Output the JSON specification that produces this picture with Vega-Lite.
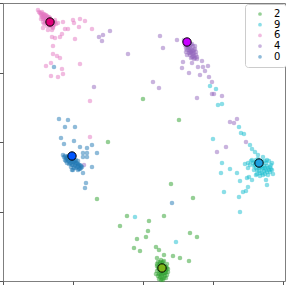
{
  "$schema": "https://vega.github.io/schema/vega-lite/v6.json",
  "width": 282,
  "height": 278,
  "autosize": "none",
  "padding": {"left": 3, "top": 3, "right": 1, "bottom": 4},
  "background": "white",
  "config": {
    "view": {"stroke": "#7f7f7f", "strokeWidth": 1},
    "font": "DejaVu Sans"
  },
  "datasets": {
    "pts": [
      {"x":38,"y":271,"c":"6"},{"x":39,"y":269,"c":"6"},{"x":42,"y":266,"c":"6"},{"x":43,"y":264,"c":"6"},{"x":47,"y":263,"c":"6"},{"x":45,"y":258,"c":"6"},{"x":43,"y":253,"c":"6"},{"x":48,"y":251,"c":"6"},{"x":53,"y":253,"c":"6"},{"x":58,"y":258,"c":"6"},{"x":63,"y":259,"c":"6"},{"x":55,"y":261,"c":"6"},{"x":52,"y":251,"c":"6"},{"x":60,"y":244,"c":"6"},{"x":55,"y":243,"c":"6"},{"x":68,"y":252,"c":"6"},{"x":73,"y":261,"c":"6"},{"x":74,"y":258,"c":"6"},{"x":80,"y":262,"c":"6"},{"x":85,"y":260,"c":"6"},{"x":79,"y":254,"c":"6"},{"x":92,"y":252,"c":"6"},{"x":75,"y":242,"c":"6"},{"x":62,"y":247,"c":"6"},{"x":52,"y":244,"c":"6"},{"x":53,"y":235,"c":"6"},{"x":53,"y":227,"c":"6"},{"x":57,"y":225,"c":"6"},{"x":60,"y":223,"c":"6"},{"x":46,"y":215,"c":"6"},{"x":51,"y":218,"c":"6"},{"x":62,"y":212,"c":"6"},{"x":51,"y":205,"c":"6"},{"x":58,"y":204,"c":"6"},{"x":63,"y":207,"c":"6"},{"x":80,"y":217,"c":"6"},{"x":90,"y":180,"c":"6"},{"x":90,"y":144,"c":"6"},{"x":65,"y":252,"c":"6"},
      {"x":40,"y":268,"c":"6"},{"x":41,"y":266,"c":"6"},{"x":43,"y":267,"c":"6"},{"x":44,"y":265,"c":"6"},{"x":45,"y":263,"c":"6"},{"x":46,"y":264,"c":"6"},{"x":47,"y":262,"c":"6"},{"x":48,"y":261,"c":"6"},{"x":49,"y":259,"c":"6"},{"x":50,"y":258,"c":"6"},{"x":51,"y":260,"c":"6"},{"x":52,"y":257,"c":"6"},{"x":53,"y":259,"c":"6"},{"x":54,"y":256,"c":"6"},{"x":45,"y":260,"c":"6"},{"x":47,"y":258,"c":"6"},{"x":49,"y":256,"c":"6"},{"x":51,"y":255,"c":"6"},{"x":53,"y":254,"c":"6"},{"x":44,"y":262,"c":"6"},{"x":42,"y":264,"c":"6"},{"x":46,"y":266,"c":"6"},{"x":48,"y":264,"c":"6"},{"x":55,"y":259,"c":"6"},{"x":50,"y":263,"c":"6"},{"x":43,"y":259,"c":"6"},{"x":47,"y":255,"c":"6"},{"x":56,"y":257,"c":"6"},{"x":41,"y":262,"c":"6"},{"x":44,"y":257,"c":"6"},
      {"x":41,"y":268,"c":"6"},{"x":42,"y":269,"c":"6"},{"x":44,"y":267,"c":"6"},{"x":45,"y":266,"c":"6"},{"x":46,"y":262,"c":"6"},{"x":47,"y":265,"c":"6"},{"x":48,"y":259,"c":"6"},{"x":49,"y":262,"c":"6"},{"x":50,"y":261,"c":"6"},{"x":51,"y":257,"c":"6"},{"x":52,"y":259,"c":"6"},{"x":53,"y":256,"c":"6"},{"x":54,"y":258,"c":"6"},{"x":50,"y":255,"c":"6"},{"x":48,"y":257,"c":"6"},{"x":46,"y":260,"c":"6"},{"x":44,"y":264,"c":"6"},{"x":43,"y":262,"c":"6"},{"x":45,"y":265,"c":"6"},{"x":49,"y":264,"c":"6"},
      {"x":160,"y":245,"c":"4"},{"x":163,"y":233,"c":"4"},{"x":177,"y":241,"c":"4"},{"x":110,"y":250,"c":"4"},{"x":103,"y":246,"c":"4"},{"x":99,"y":244,"c":"4"},{"x":102,"y":240,"c":"4"},{"x":128,"y":227,"c":"4"},{"x":94,"y":194,"c":"4"},{"x":153,"y":199,"c":"4"},{"x":159,"y":193,"c":"4"},{"x":182,"y":213,"c":"4"},{"x":189,"y":208,"c":"4"},{"x":200,"y":206,"c":"4"},{"x":205,"y":210,"c":"4"},{"x":203,"y":214,"c":"4"},{"x":208,"y":215,"c":"4"},{"x":202,"y":220,"c":"4"},{"x":197,"y":222,"c":"4"},{"x":192,"y":218,"c":"4"},{"x":198,"y":214,"c":"4"},{"x":209,"y":204,"c":"4"},{"x":212,"y":199,"c":"4"},{"x":197,"y":183,"c":"4"},{"x":212,"y":187,"c":"4"},{"x":214,"y":187,"c":"4"},{"x":222,"y":185,"c":"4"},{"x":183,"y":219,"c":"4"},{"x":187,"y":226,"c":"4"},{"x":192,"y":224,"c":"4"},{"x":230,"y":159,"c":"4"},{"x":237,"y":162,"c":"4"},{"x":234,"y":158,"c":"4"},{"x":217,"y":129,"c":"4"},{"x":226,"y":134,"c":"4"},{"x":246,"y":139,"c":"4"},{"x":84,"y":116,"c":"4"},
      {"x":184,"y":241,"c":"4"},{"x":186,"y":237,"c":"4"},{"x":188,"y":235,"c":"4"},{"x":190,"y":233,"c":"4"},{"x":189,"y":231,"c":"4"},{"x":191,"y":229,"c":"4"},{"x":193,"y":227,"c":"4"},{"x":192,"y":231,"c":"4"},{"x":194,"y":225,"c":"4"},{"x":195,"y":223,"c":"4"},{"x":190,"y":237,"c":"4"},{"x":188,"y":241,"c":"4"},{"x":186,"y":233,"c":"4"},{"x":190,"y":226,"c":"4"},{"x":193,"y":235,"c":"4"},{"x":185,"y":236,"c":"4"},{"x":187,"y":231,"c":"4"},{"x":192,"y":237,"c":"4"},{"x":189,"y":228,"c":"4"},{"x":196,"y":229,"c":"4"},{"x":191,"y":223,"c":"4"},{"x":194,"y":231,"c":"4"},{"x":186,"y":229,"c":"4"},{"x":195,"y":235,"c":"4"},
      {"x":185,"y":239,"c":"4"},{"x":187,"y":240,"c":"4"},{"x":189,"y":238,"c":"4"},{"x":191,"y":236,"c":"4"},{"x":188,"y":233,"c":"4"},{"x":190,"y":230,"c":"4"},{"x":192,"y":228,"c":"4"},{"x":194,"y":228,"c":"4"},{"x":193,"y":224,"c":"4"},{"x":196,"y":226,"c":"4"},{"x":195,"y":232,"c":"4"},{"x":191,"y":232,"c":"4"},{"x":189,"y":235,"c":"4"},{"x":187,"y":235,"c":"4"},{"x":193,"y":230,"c":"4"},{"x":197,"y":224,"c":"4"},{"x":194,"y":222,"c":"4"},{"x":190,"y":228,"c":"4"},
      {"x":210,"y":195,"c":"9"},{"x":216,"y":192,"c":"9"},{"x":218,"y":176,"c":"9"},{"x":222,"y":177,"c":"9"},{"x":239,"y":154,"c":"9"},{"x":241,"y":148,"c":"9"},{"x":244,"y":147,"c":"9"},{"x":250,"y":136,"c":"9"},{"x":252,"y":132,"c":"9"},{"x":255,"y":129,"c":"9"},{"x":258,"y":126,"c":"9"},{"x":213,"y":142,"c":"9"},{"x":222,"y":118,"c":"9"},{"x":230,"y":112,"c":"9"},{"x":221,"y":108,"c":"9"},{"x":237,"y":108,"c":"9"},{"x":240,"y":100,"c":"9"},{"x":247,"y":103,"c":"9"},{"x":249,"y":104,"c":"9"},{"x":252,"y":101,"c":"9"},{"x":248,"y":94,"c":"9"},{"x":246,"y":90,"c":"9"},{"x":243,"y":89,"c":"9"},{"x":224,"y":89,"c":"9"},{"x":239,"y":84,"c":"9"},{"x":240,"y":69,"c":"9"},{"x":267,"y":96,"c":"9"},{"x":266,"y":101,"c":"9"},{"x":272,"y":111,"c":"9"},{"x":273,"y":107,"c":"9"},{"x":245,"y":117,"c":"9"},{"x":248,"y":118,"c":"9"},{"x":135,"y":64,"c":"9"},{"x":176,"y":39,"c":"9"},
      {"x":252,"y":121,"c":"9"},{"x":255,"y":119,"c":"9"},{"x":258,"y":116,"c":"9"},{"x":260,"y":114,"c":"9"},{"x":262,"y":112,"c":"9"},{"x":264,"y":115,"c":"9"},{"x":266,"y":111,"c":"9"},{"x":268,"y":113,"c":"9"},{"x":270,"y":109,"c":"9"},{"x":256,"y":113,"c":"9"},{"x":259,"y":110,"c":"9"},{"x":262,"y":108,"c":"9"},{"x":265,"y":107,"c":"9"},{"x":258,"y":122,"c":"9"},{"x":262,"y":120,"c":"9"},{"x":266,"y":118,"c":"9"},{"x":250,"y":116,"c":"9"},{"x":254,"y":111,"c":"9"},{"x":268,"y":106,"c":"9"},{"x":271,"y":116,"c":"9"},{"x":260,"y":105,"c":"9"},{"x":257,"y":107,"c":"9"},{"x":263,"y":124,"c":"9"},{"x":248,"y":113,"c":"9"},{"x":264,"y":110,"c":"9"},{"x":261,"y":117,"c":"9"},{"x":267,"y":115,"c":"9"},{"x":254,"y":115,"c":"9"},{"x":269,"y":120,"c":"9"},{"x":256,"y":106,"c":"9"},
      {"x":253,"y":118,"c":"9"},{"x":256,"y":121,"c":"9"},{"x":259,"y":119,"c":"9"},{"x":261,"y":115,"c":"9"},{"x":263,"y":113,"c":"9"},{"x":265,"y":113,"c":"9"},{"x":267,"y":109,"c":"9"},{"x":269,"y":111,"c":"9"},{"x":271,"y":112,"c":"9"},{"x":257,"y":111,"c":"9"},{"x":260,"y":108,"c":"9"},{"x":263,"y":106,"c":"9"},{"x":259,"y":113,"c":"9"},{"x":255,"y":116,"c":"9"},{"x":251,"y":120,"c":"9"},{"x":265,"y":120,"c":"9"},{"x":262,"y":117,"c":"9"},{"x":267,"y":121,"c":"9"},{"x":270,"y":114,"c":"9"},{"x":272,"y":118,"c":"9"},
      {"x":59,"y":162,"c":"0"},{"x":68,"y":161,"c":"0"},{"x":65,"y":154,"c":"0"},{"x":75,"y":154,"c":"0"},{"x":61,"y":143,"c":"0"},{"x":74,"y":140,"c":"0"},{"x":64,"y":137,"c":"0"},{"x":80,"y":134,"c":"0"},{"x":87,"y":133,"c":"0"},{"x":92,"y":136,"c":"0"},{"x":97,"y":128,"c":"0"},{"x":87,"y":128,"c":"0"},{"x":83,"y":128,"c":"0"},{"x":83,"y":124,"c":"0"},{"x":87,"y":124,"c":"0"},{"x":92,"y":114,"c":"0"},{"x":78,"y":111,"c":"0"},{"x":72,"y":111,"c":"0"},{"x":83,"y":108,"c":"0"},{"x":86,"y":98,"c":"0"},{"x":85,"y":93,"c":"0"},{"x":54,"y":214,"c":"0"},{"x":172,"y":78,"c":"0"},
      {"x":64,"y":124,"c":"0"},{"x":66,"y":123,"c":"0"},{"x":68,"y":121,"c":"0"},{"x":70,"y":122,"c":"0"},{"x":72,"y":120,"c":"0"},{"x":74,"y":119,"c":"0"},{"x":76,"y":118,"c":"0"},{"x":78,"y":117,"c":"0"},{"x":80,"y":116,"c":"0"},{"x":70,"y":118,"c":"0"},{"x":72,"y":116,"c":"0"},{"x":75,"y":115,"c":"0"},{"x":77,"y":114,"c":"0"},{"x":79,"y":112,"c":"0"},{"x":68,"y":125,"c":"0"},{"x":66,"y":120,"c":"0"},{"x":73,"y":123,"c":"0"},{"x":76,"y":121,"c":"0"},{"x":81,"y":113,"c":"0"},{"x":74,"y":113,"c":"0"},{"x":78,"y":120,"c":"0"},{"x":69,"y":117,"c":"0"},{"x":71,"y":114,"c":"0"},{"x":67,"y":118,"c":"0"},{"x":75,"y":117,"c":"0"},{"x":73,"y":111,"c":"0"},{"x":65,"y":121,"c":"0"},
      {"x":63,"y":126,"c":"0"},{"x":65,"y":125,"c":"0"},{"x":67,"y":124,"c":"0"},{"x":69,"y":123,"c":"0"},{"x":71,"y":121,"c":"0"},{"x":73,"y":119,"c":"0"},{"x":75,"y":120,"c":"0"},{"x":77,"y":118,"c":"0"},{"x":79,"y":116,"c":"0"},{"x":81,"y":115,"c":"0"},{"x":71,"y":118,"c":"0"},{"x":73,"y":116,"c":"0"},{"x":76,"y":113,"c":"0"},{"x":78,"y":115,"c":"0"},{"x":80,"y":112,"c":"0"},{"x":69,"y":120,"c":"0"},{"x":67,"y":122,"c":"0"},{"x":82,"y":114,"c":"0"},{"x":74,"y":122,"c":"0"},{"x":70,"y":125,"c":"0"},
      {"x":143,"y":182,"c":"2"},{"x":179,"y":161,"c":"2"},{"x":108,"y":139,"c":"2"},{"x":97,"y":82,"c":"2"},{"x":171,"y":97,"c":"2"},{"x":193,"y":83,"c":"2"},{"x":127,"y":65,"c":"2"},{"x":120,"y":55,"c":"2"},{"x":149,"y":60,"c":"2"},{"x":164,"y":65,"c":"2"},{"x":148,"y":50,"c":"2"},{"x":146,"y":44,"c":"2"},{"x":137,"y":42,"c":"2"},{"x":134,"y":33,"c":"2"},{"x":140,"y":30,"c":"2"},{"x":156,"y":34,"c":"2"},{"x":159,"y":31,"c":"2"},{"x":190,"y":48,"c":"2"},{"x":197,"y":44,"c":"2"},{"x":164,"y":26,"c":"2"},{"x":173,"y":25,"c":"2"},{"x":180,"y":23,"c":"2"},{"x":189,"y":20,"c":"2"},{"x":157,"y":23,"c":"2"},
      {"x":158,"y":19,"c":"2"},{"x":160,"y":17,"c":"2"},{"x":162,"y":15,"c":"2"},{"x":164,"y":13,"c":"2"},{"x":166,"y":11,"c":"2"},{"x":159,"y":11,"c":"2"},{"x":161,"y":9,"c":"2"},{"x":163,"y":7,"c":"2"},{"x":165,"y":5,"c":"2"},{"x":160,"y":4,"c":"2"},{"x":162,"y":2,"c":"2"},{"x":157,"y":15,"c":"2"},{"x":167,"y":17,"c":"2"},{"x":164,"y":20,"c":"2"},{"x":161,"y":21,"c":"2"},{"x":168,"y":9,"c":"2"},{"x":156,"y":7,"c":"2"},{"x":166,"y":3,"c":"2"},{"x":163,"y":11,"c":"2"},{"x":159,"y":7,"c":"2"},{"x":165,"y":15,"c":"2"},{"x":161,"y":1,"c":"2"},{"x":167,"y":6,"c":"2"},{"x":158,"y":13,"c":"2"},{"x":164,"y":8,"c":"2"},{"x":162,"y":18,"c":"2"},{"x":160,"y":12,"c":"2"},{"x":166,"y":14,"c":"2"},
      {"x":157,"y":17,"c":"2"},{"x":159,"y":15,"c":"2"},{"x":161,"y":13,"c":"2"},{"x":163,"y":16,"c":"2"},{"x":165,"y":11,"c":"2"},{"x":167,"y":13,"c":"2"},{"x":160,"y":8,"c":"2"},{"x":162,"y":5,"c":"2"},{"x":164,"y":3,"c":"2"},{"x":158,"y":5,"c":"2"},{"x":160,"y":19,"c":"2"},{"x":163,"y":19,"c":"2"},{"x":166,"y":9,"c":"2"},{"x":157,"y":10,"c":"2"},{"x":165,"y":8,"c":"2"},{"x":161,"y":6,"c":"2"},{"x":163,"y":1,"c":"2"},{"x":159,"y":2,"c":"2"},{"x":168,"y":12,"c":"2"},{"x":162,"y":10,"c":"2"}
    ],
    "cent": [
      {"x":50,"y":259,"c":"6","fill":"#e0007a"},
      {"x":187,"y":239,"c":"4","fill":"#c800ff"},
      {"x":72,"y":125,"c":"0","fill":"#0055ff"},
      {"x":259,"y":118,"c":"9","fill":"#1f9fe0"},
      {"x":162,"y":13,"c":"2","fill":"#7bb51a"}
    ]
  },
  "layer": [
    {
      "data": {"name": "pts"},
      "mark": {"type": "circle", "size": 21, "opacity": 0.5},
      "encoding": {
        "x": {"field": "x", "type": "quantitative", "scale": {"domain": [3, 285], "nice": false, "zero": false},
          "axis": {"values": [3, 38, 73, 108, 143, 178, 213, 248, 283], "labels": false, "labelOverlap": false, "title": null, "grid": false, "domain": false, "tickColor": "#555", "tickSize": 3.5, "tickWidth": 1}},
        "y": {"field": "y", "type": "quantitative", "scale": {"domain": [0, 278], "nice": false, "zero": false},
          "axis": {"values": [0, 35, 69.5, 104, 138.7, 173.3, 207.7, 242.7, 277.6], "labels": false, "labelOverlap": false, "title": null, "grid": false, "domain": false, "tickColor": "#555", "tickSize": 3.5, "tickWidth": 1}},
        "color": {"field": "c", "type": "nominal",
          "scale": {"domain": ["2", "9", "6", "4", "0"], "range": ["#2ca02c", "#17becf", "#e377c2", "#9467bd", "#1f77b4"]},
          "legend": {"title": null, "orient": "none", "legendX": 242, "legendY": 1, "padding": 5, "strokeColor": "#cccccc", "fillColor": "white", "cornerRadius": 3, "symbolType": "circle", "symbolSize": 14, "symbolOpacity": 0.5, "labelFontSize": 10, "labelColor": "#000", "labelOffset": 9, "rowPadding": 0.7, "symbolOffset": 5}}
      }
    },
    {
      "data": {"name": "cent"},
      "mark": {"type": "circle", "size": 70, "opacity": 1, "stroke": "black", "strokeWidth": 1},
      "encoding": {
        "x": {"field": "x", "type": "quantitative"},
        "y": {"field": "y", "type": "quantitative"},
        "fill": {"field": "fill", "type": "nominal", "scale": null, "legend": null}
      }
    }
  ]
}
